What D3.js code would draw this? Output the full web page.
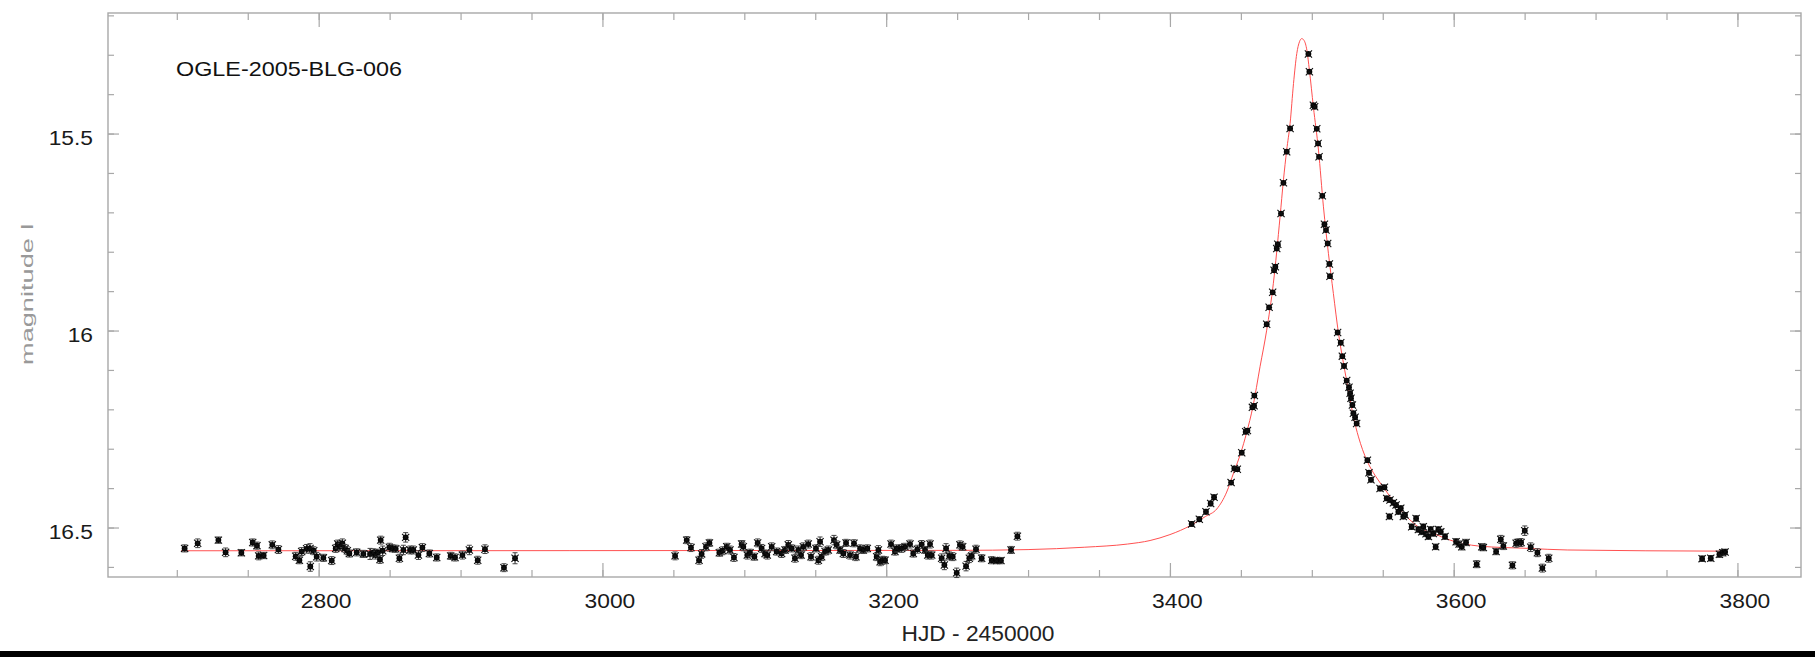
<!DOCTYPE html>
<html>
<head>
<meta charset="utf-8">
<script src="https://cdn.jsdelivr.net/npm/d3@7"></script>
<style>
  body { margin: 0; background: #fff; }
  svg { display: block; }
  text { font-family: "Liberation Sans", Arial, Helvetica, sans-serif; }
</style>
</head>
<body>
<svg id="chart"></svg>
<script>
const width = 1815;
const height = 657;

// photometry: [HJD-2450000, I mag, error]
const season2003 = [
  [2705.5,16.553,.009],[2714.7,16.540,.011],[2729.3,16.532,.008],[2734.4,16.563,.011],[2745.5,16.564,.008],
  [2753.5,16.538,.009],[2756.5,16.546,.009],[2757.7,16.572,.010],[2761.2,16.571,.008],[2767.3,16.544,.010],
  [2771.6,16.556,.010],[2783.8,16.573,.010],[2786.4,16.583,.009],[2788.0,16.561,.010],[2791.5,16.554,.011],
  [2793.9,16.553,.012],[2794.1,16.599,.012],[2796.5,16.559,.010],[2798.6,16.574,.011],[2803.3,16.577,.009],
  [2809.2,16.584,.010],[2812.0,16.553,.010],[2813.4,16.542,.010],[2815.0,16.549,.009],[2816.7,16.540,.011],
  [2818.6,16.553,.010],[2820.2,16.559,.010],[2821.6,16.566,.009],[2826.8,16.563,.009],[2831.5,16.567,.009],
  [2836.2,16.567,.014],[2838.5,16.564,.010],[2840.2,16.570,.010],[2841.6,16.564,.009],[2843.2,16.581,.010],
  [2843.7,16.532,.010],[2845.1,16.559,.012],[2849.8,16.550,.010],[2852.2,16.553,.009],[2854.3,16.554,.009],
  [2856.9,16.578,.010],[2859.7,16.557,.012],[2861.3,16.525,.012],[2864.4,16.557,.010],[2866.7,16.557,.010],
  [2870.3,16.570,.011],[2873.1,16.551,.010],[2878.0,16.566,.009],[2883.2,16.576,.009],[2893.0,16.572,.009],
  [2896.1,16.576,.009],[2901.3,16.570,.010],[2906.2,16.557,.012],[2912.1,16.583,.010],[2917.2,16.555,.011],
  [2930.6,16.602,.010],[2938.4,16.578,.014]
];

const season2004 = [
  [3051.2,16.572,.010],[3059.4,16.532,.009],[3062.4,16.551,.010],[3068.1,16.583,.010],[3069.9,16.567,.011],
  [3073.0,16.549,.010],[3075.4,16.539,.009],[3082.4,16.564,.009],[3084.8,16.559,.010],[3087.6,16.549,.009],
  [3089.9,16.557,.010],[3092.7,16.576,.010],[3098.1,16.542,.009],[3099.3,16.549,.010],[3102.1,16.570,.010],
  [3104.0,16.564,.009],[3107.1,16.574,.009],[3109.4,16.539,.010],[3112.2,16.553,.010],[3114.6,16.566,.009],
  [3116.2,16.570,.010],[3119.3,16.549,.010],[3122.8,16.561,.009],[3126.3,16.566,.010],[3128.7,16.557,.009],
  [3131.0,16.544,.011],[3133.4,16.553,.009],[3135.7,16.578,.010],[3138.1,16.557,.010],[3140.0,16.570,.009],
  [3141.6,16.549,.010],[3145.1,16.542,.010],[3147.0,16.574,.010],[3150.5,16.553,.009],[3152.2,16.583,.010],
  [3153.4,16.536,.012],[3154.5,16.574,.010],[3156.9,16.561,.009],[3159.2,16.557,.010],[3163.2,16.532,.012],
  [3165.1,16.544,.010],[3167.5,16.557,.009],[3169.8,16.566,.010],[3171.7,16.539,.009],[3174.5,16.570,.010],
  [3177.3,16.540,.009],[3178.7,16.574,.010],[3181.6,16.553,.009],[3183.9,16.557,.009],[3186.7,16.553,.009],
  [3193.3,16.574,.010],[3194.5,16.557,.011],[3195.7,16.587,.010],[3197.5,16.583,.010],[3199.2,16.583,.009],
  [3203.4,16.542,.010],[3206.2,16.561,.009],[3207.4,16.553,.009],[3210.9,16.553,.010],[3213.3,16.549,.009],
  [3216.8,16.542,.010],[3219.1,16.566,.009],[3222.0,16.555,.010],[3225.0,16.543,.010],[3227.4,16.557,.009],
  [3229.3,16.570,.010],[3230.9,16.542,.010],[3232.1,16.570,.010],[3239.1,16.578,.011],[3241.0,16.595,.012],
  [3242.2,16.553,.012],[3244.5,16.572,.010],[3246.9,16.574,.010],[3249.7,16.615,.012],[3252.0,16.544,.010],
  [3253.9,16.549,.009],[3256.3,16.598,.012],[3258.6,16.578,.011],[3260.3,16.572,.010],[3263.3,16.555,.010],
  [3267.3,16.578,.009],[3274.4,16.583,.009],[3277.9,16.584,.008],[3280.9,16.584,.008],[3288.0,16.557,.009],
  [3292.5,16.522,.010]
];

const season2005 = [
  [3415.3,16.491,.006],[3420.7,16.479,.006],[3425.4,16.460,.006],[3428.7,16.439,.006],[3431.1,16.423,.006],
  [3443.1,16.386,.005],[3445.4,16.350,.005],[3447.5,16.352,.005],[3450.6,16.310,.005],[3453.4,16.257,.005],
  [3454.6,16.254,.005],[3458.1,16.195,.005],[3459.3,16.191,.005],[3459.5,16.165,.005],[3468.2,15.984,.004],
  [3469.9,15.941,.004],[3472.4,15.903,.004],[3473.4,15.847,.004],[3474.3,15.838,.004],[3475.3,15.792,.004],
  [3476.0,15.781,.004],[3478.3,15.703,.004],[3480.0,15.625,.004],[3482.3,15.546,.004],[3484.7,15.487,.004],
  [3497.6,15.298,.004],[3498.3,15.343,.004],[3501.1,15.428,.004],[3502.0,15.432,.004],[3503.5,15.488,.004],
  [3504.4,15.525,.004],[3505.1,15.559,.004],[3507.4,15.658,.004],[3508.9,15.730,.004],[3510.0,15.745,.004],
  [3511.2,15.779,.004],[3512.4,15.831,.004],[3512.8,15.862,.004],[3518.2,16.005,.004],[3520.4,16.031,.004],
  [3521.5,16.065,.004],[3522.7,16.090,.004],[3524.6,16.127,.005],[3526.2,16.144,.005],[3527.0,16.159,.005],
  [3527.6,16.172,.005],[3528.6,16.189,.005],[3529.3,16.210,.005],[3530.5,16.220,.005],[3531.6,16.236,.005],
  [3539.2,16.329,.005],[3540.3,16.361,.005],[3541.7,16.379,.005],[3548.1,16.401,.006],[3551.2,16.398,.006],
  [3552.8,16.426,.006],[3554.7,16.472,.006],[3555.1,16.430,.006],[3557.5,16.437,.006],[3559.4,16.443,.006],
  [3561.0,16.460,.006],[3562.7,16.451,.006],[3564.5,16.472,.006],[3565.7,16.468,.006],[3570.4,16.498,.007],
  [3573.5,16.477,.007],[3575.1,16.505,.007],[3577.5,16.511,.007],[3578.6,16.498,.007],[3580.5,16.516,.007],
  [3582.2,16.523,.007],[3583.8,16.505,.007],[3585.7,16.515,.007],[3587.3,16.549,.007],[3589.2,16.505,.007],
  [3590.9,16.511,.007],[3593.9,16.523,.007],[3601.7,16.536,.008],[3603.8,16.542,.008],[3605.7,16.549,.008],
  [3608.7,16.538,.008],[3616.2,16.593,.009],[3619.8,16.549,.008],[3620.9,16.551,.008],[3629.9,16.561,.008],
  [3633.2,16.530,.010],[3635.0,16.547,.009],[3641.4,16.596,.009],[3644.0,16.540,.010],[3645.6,16.538,.009],
  [3647.5,16.538,.010],[3650.1,16.508,.012],[3654.3,16.550,.011],[3659.0,16.564,.010],[3662.5,16.603,.010],
  [3667.0,16.578,.010],[3775.1,16.579,.007],[3781.2,16.578,.007],[3787.3,16.568,.008],[3789.6,16.564,.008],
  [3791.3,16.562,.007]
];

// model light curve: [HJD-2450000, I mag]
const modelCurve = [
  [2703,16.559],[3250,16.558],[3300,16.556],[3340,16.550],[3370,16.542],[3386,16.533],[3400,16.518],
  [3415,16.494],[3425,16.472],[3433,16.453],[3440,16.410],[3445,16.360],[3450,16.310],[3454,16.260],
  [3458.5,16.193],[3463.5,16.092],[3468.2,15.999],[3472.9,15.880],[3477.6,15.712],[3480,15.618],
  [3482.3,15.542],[3484.7,15.474],[3487.1,15.373],[3489.4,15.297],[3491.3,15.267],[3492.9,15.259],
  [3494.6,15.264],[3496.5,15.288],[3498.3,15.339],[3501.1,15.432],[3504.7,15.542],[3508.2,15.686],
  [3511.7,15.804],[3515.2,15.906],[3518.8,16.007],[3522.3,16.083],[3525.8,16.151],[3529.3,16.219],
  [3532.9,16.270],[3538.7,16.329],[3545,16.370],[3550.5,16.398],[3560,16.445],[3569.3,16.481],
  [3577,16.503],[3585.7,16.515],[3597.5,16.532],[3617.6,16.547],[3652.8,16.553],[3680,16.557],
  [3791,16.560]
];

const xMajor = [2800, 3000, 3200, 3400, 3600, 3800];
const yMajor = [15.5, 16, 16.5];

const margin = { left: 108, right: 14, top: 13, bottom: 80 };
const plotW = width - margin.left - margin.right;
const plotH = height - margin.top - margin.bottom;

const svg = d3.select("#chart").attr("width", width).attr("height", height);

const x = d3.scaleLinear().domain([2651.5, 3844.8]).range([0, plotW]);
const y = d3.scaleLinear().domain([15.194, 16.6256]).range([0, plotH]); // magnitudes grow downward

const xMinor = d3.range(2700, 3801, 50);
const yMinor = d3.range(15.2, 16.61, 0.1).map(v => +v.toFixed(1));

const frameColor = "#a8a8a8";

const g = svg.append("g").attr("transform", `translate(${margin.left},${margin.top})`);

// ticks on all four sides, pointing inward
function styleAxis(sel) {
  sel.select(".domain").remove();
  sel.selectAll(".tick line").attr("stroke", frameColor).attr("stroke-width", 1.2);
}

g.append("g").attr("transform", `translate(0,${plotH})`)
  .call(d3.axisBottom(x).tickValues(xMinor).tickSize(-7).tickFormat("")).call(styleAxis);
g.append("g")
  .call(d3.axisTop(x).tickValues(xMinor).tickSize(-7).tickFormat("")).call(styleAxis);
g.append("g").call(d3.axisLeft(y).tickValues(yMinor).tickSize(-6).tickFormat("")).call(styleAxis);
g.append("g").attr("transform", `translate(${plotW},0)`)
  .call(d3.axisRight(y).tickValues(yMinor).tickSize(-6).tickFormat("")).call(styleAxis);

const xAxis = g.append("g").attr("transform", `translate(0,${plotH})`)
  .call(d3.axisBottom(x).tickValues(xMajor).tickSize(-14).tickFormat(d3.format("d")))
  .call(styleAxis);
xAxis.selectAll("text")
  .attr("y", 31).attr("dy", 0).attr("x", 7)
  .attr("font-size", 20).attr("fill", "#1a1a1a");

g.append("g").call(d3.axisTop(x).tickValues(xMajor).tickSize(-14).tickFormat("")).call(styleAxis);

const yAxis = g.append("g")
  .call(d3.axisLeft(y).tickValues(yMajor).tickSize(-11).tickFormat(d => d))
  .call(styleAxis);
yAxis.selectAll("text")
  .attr("x", -15).attr("y", 11).attr("dy", 0)
  .attr("font-size", 20).attr("fill", "#1a1a1a");

g.append("g").attr("transform", `translate(${plotW},0)`)
  .call(d3.axisRight(y).tickValues(yMajor).tickSize(-11).tickFormat("")).call(styleAxis);

// stretch tick labels a bit wider, like the reference
svg.selectAll(".tick text").each(function () {
  const w = this.getComputedTextLength();
  d3.select(this).attr("textLength", w * 1.14).attr("lengthAdjust", "spacingAndGlyphs");
});

// frame
g.append("rect")
  .attr("width", plotW).attr("height", plotH)
  .attr("fill", "none").attr("stroke", frameColor).attr("stroke-width", 1.4);

// model curve
const line = d3.line()
  .x(d => x(d[0]))
  .y(d => y(d[1]))
  .curve(d3.curveMonotoneX);

g.append("path")
  .datum(modelCurve)
  .attr("fill", "none")
  .attr("stroke", "#ff5050")
  .attr("stroke-width", 1)
  .attr("d", line);

// data points with error bars
const allPoints = season2003.concat(season2004, season2005);

const pts = g.append("g").selectAll("g.pt")
  .data(allPoints)
  .enter()
  .append("g")
  .attr("class", "pt");

pts.append("line")
  .attr("x1", d => x(d[0])).attr("x2", d => x(d[0]))
  .attr("y1", d => y(d[1] - d[2])).attr("y2", d => y(d[1] + d[2]))
  .attr("stroke", "#222").attr("stroke-width", 1);

pts.append("path")
  .attr("d", d => `M${x(d[0]) - 2.5},${y(d[1] - d[2])}h5M${x(d[0]) - 2.5},${y(d[1] + d[2])}h5`)
  .attr("stroke", "#444").attr("stroke-width", 1);

// filled marker with a small cross, star-like as in the reference
pts.append("circle")
  .attr("cx", d => x(d[0]))
  .attr("cy", d => y(d[1]))
  .attr("r", 2.9)
  .attr("fill", "#050505");

pts.append("path")
  .attr("d", d => `M${x(d[0]) - 3.6},${y(d[1]) - 3.6}l7.2,7.2M${x(d[0]) - 3.6},${y(d[1]) + 3.6}l7.2,-7.2`)
  .attr("stroke", "#111").attr("stroke-width", 1.1);

// event name
g.append("text")
  .attr("x", 176 - margin.left).attr("y", 76 - margin.top)
  .attr("font-size", 21)
  .attr("fill", "#111")
  .attr("textLength", 226).attr("lengthAdjust", "spacingAndGlyphs")
  .text("OGLE-2005-BLG-006");

// axis titles
svg.append("text")
  .attr("x", 978).attr("y", 641)
  .attr("text-anchor", "middle")
  .attr("font-size", 22)
  .attr("fill", "#222")
  .attr("textLength", 153).attr("lengthAdjust", "spacingAndGlyphs")
  .text("HJD - 2450000");

svg.append("text")
  .attr("transform", "translate(33,294) rotate(-90)")
  .attr("text-anchor", "middle")
  .attr("font-size", 17)
  .attr("fill", "#999")
  .attr("textLength", 142).attr("lengthAdjust", "spacingAndGlyphs")
  .text("magnitude I");

// dark strip along the bottom edge of the image
svg.append("rect")
  .attr("x", 0).attr("y", 651).attr("width", width).attr("height", height - 651)
  .attr("fill", "#000");
</script>
</body>
</html>
